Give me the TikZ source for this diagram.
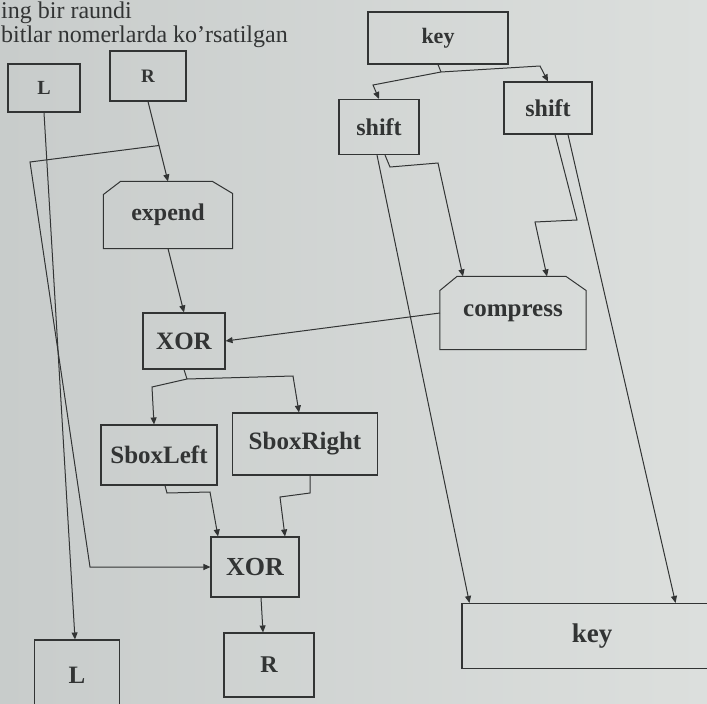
\documentclass[tikz,border=0pt]{standalone}
\usepackage{fontspec}
\setmainfont{Liberation Serif}
\usetikzlibrary{arrows.meta}
\definecolor{ink}{RGB}{50,52,52}
\definecolor{pageL}{RGB}{200,204,203}
\definecolor{pageR}{RGB}{220,223,221}
\begin{document}
\begin{tikzpicture}[x=1pt,y=-1pt,
  box/.style={draw=ink, line width=1.1pt, inner sep=0pt, text=ink, font=\bfseries\fontsize{24}{24}\selectfont},
  plain/.style={box, draw=none},
  ln/.style={draw=ink, line width=1pt},
  arr/.style={ln, -{Triangle[length=7pt,width=6pt]}},
  booktext/.style={anchor=base west, text=ink, font=\fontsize{24}{24}\selectfont, inner sep=0pt}]
\clip (0,0) rectangle (707,704);
\shade[left color=pageL, right color=pageR] (0,0) rectangle (707,704);

% book text
\node[booktext] (t1) at (1,19) {ing bir raundi};
\node[booktext] (t2) at (1,42) {bitlar nomerlarda ko'rsatilgan};

% nodes
\node[box, minimum width=72pt, minimum height=48pt, font=\bfseries\fontsize{20}{20}\selectfont] (Lt) at (44,88) {L};
\node[box, minimum width=76pt, minimum height=50pt, font=\bfseries\fontsize{19}{19}\selectfont] (Rt) at (148,76) {R};
\node[plain, minimum width=128pt, minimum height=66pt] (Ex) at (168,215) {expend};
\draw[ln] ([yshift=-13pt]Ex.north west) -- ([xshift=17pt]Ex.north west) -- ([xshift=-20pt]Ex.north east) -- ([yshift=-12pt]Ex.north east) -- (Ex.south east) -- (Ex.south west) -- cycle;
\node[box, minimum width=140pt, minimum height=52pt, font=\bfseries\fontsize{22}{22}\selectfont] (Kt) at (438,38) {key};
\node[box, minimum width=80pt, minimum height=55pt] (SL) at (379,127) {shift};
\node[box, minimum width=88pt, minimum height=52pt] (SR) at (548,108) {shift};
\node[plain, minimum width=145pt, minimum height=72pt, font=\bfseries\fontsize{25}{25}\selectfont] (Cp) at (513,313) {compress};
\draw[ln] ([yshift=-14pt]Cp.north west) -- ([xshift=17pt]Cp.north west) -- ([xshift=-20pt]Cp.north east) -- ([yshift=-14pt]Cp.north east) -- (Cp.south east) -- (Cp.south west) -- cycle;
\node[box, minimum width=82pt, minimum height=56pt, font=\bfseries\fontsize{25}{25}\selectfont] (X1) at (184,341) {XOR};
\node[box, minimum width=116pt, minimum height=60pt, font=\bfseries\fontsize{25}{25}\selectfont] (SbL) at (159,455) {SboxLeft};
\node[box, minimum width=145pt, minimum height=62pt, font=\bfseries\fontsize{25}{25}\selectfont] (SbR) at (305,444) {SboxRight};
\node[box, minimum width=88pt, minimum height=60pt, font=\bfseries\fontsize{26}{26}\selectfont] (X2) at (255,567) {XOR};
\node[box, minimum width=85pt, minimum height=70pt, font=\bfseries\fontsize{25}{25}\selectfont] (Lb) at (77,675) {L};
\node[box, minimum width=90pt, minimum height=64pt, font=\bfseries\fontsize{24}{24}\selectfont] (Rb) at (269,665) {R};
\node[box, minimum width=260pt, minimum height=65pt, font=\bfseries\fontsize{27}{27}\selectfont] (Kb) at (592,636) {key};

% bend points
\coordinate (c1) at (30,162);
\coordinate (c2) at (90,567);
\coordinate (k1) at (441,72);
\coordinate (kl) at (373,85);
\coordinate (kr) at (540,66);
\coordinate (a1) at (390,167);
\coordinate (a2) at (438,163);
\coordinate (b1) at (577,220);
\coordinate (b2) at (535,222);
\coordinate (d0) at (187,379);
\coordinate (dl) at (152,387);
\coordinate (dr) at (293,376);
\coordinate (e1) at (167,493);
\coordinate (e2) at (210,492);
\coordinate (f1) at (310,493);
\coordinate (f2) at (280,497);

% connectors
\draw[arr] (Lt.south) -- ([xshift=-2pt]Lb.north);
\draw[arr] (Rt.south) -- coordinate[pos=0.55] (J1) (Ex.north);
\draw[arr] (J1) -- (c1) -- (c2) -- (X2.west);
\draw[arr] (Ex.south) -- (X1.north);
\draw[ln] (Kt.south) -- (k1);
\draw[arr] (k1) -- (kl) -- (SL.north);
\draw[arr] (k1) -- (kr) -- (SR.north);
\draw[arr] ([xshift=-2pt]SL.south) -- ([xshift=8pt]Kb.north west);
\draw[arr] ([xshift=6pt]SL.south) -- (a1) -- (a2) -- ([xshift=-50pt]Cp.north);
\draw[arr] ([xshift=7pt]SR.south) -- (b1) -- (b2) -- ([xshift=34pt]Cp.north);
\draw[arr] ([xshift=20pt]SR.south) -- ([xshift=-47pt]Kb.north east);
\draw[arr] (Cp.west) -- (X1.east);
\draw[ln] (X1.south) -- (d0);
\draw[arr] (d0) -- (dl) -- ([xshift=-5pt]SbL.north);
\draw[arr] (d0) -- (dr) -- ([xshift=-6pt]SbR.north);
\draw[arr] ([xshift=6pt]SbL.south) -- (e1) -- (e2) -- ([xshift=-37pt]X2.north);
\draw[arr] ([xshift=5pt]SbR.south) -- (f1) -- (f2) -- ([xshift=30pt]X2.north);
\draw[arr] ([xshift=6pt]X2.south) -- ([xshift=-6pt]Rb.north);
\end{tikzpicture}
\end{document}
